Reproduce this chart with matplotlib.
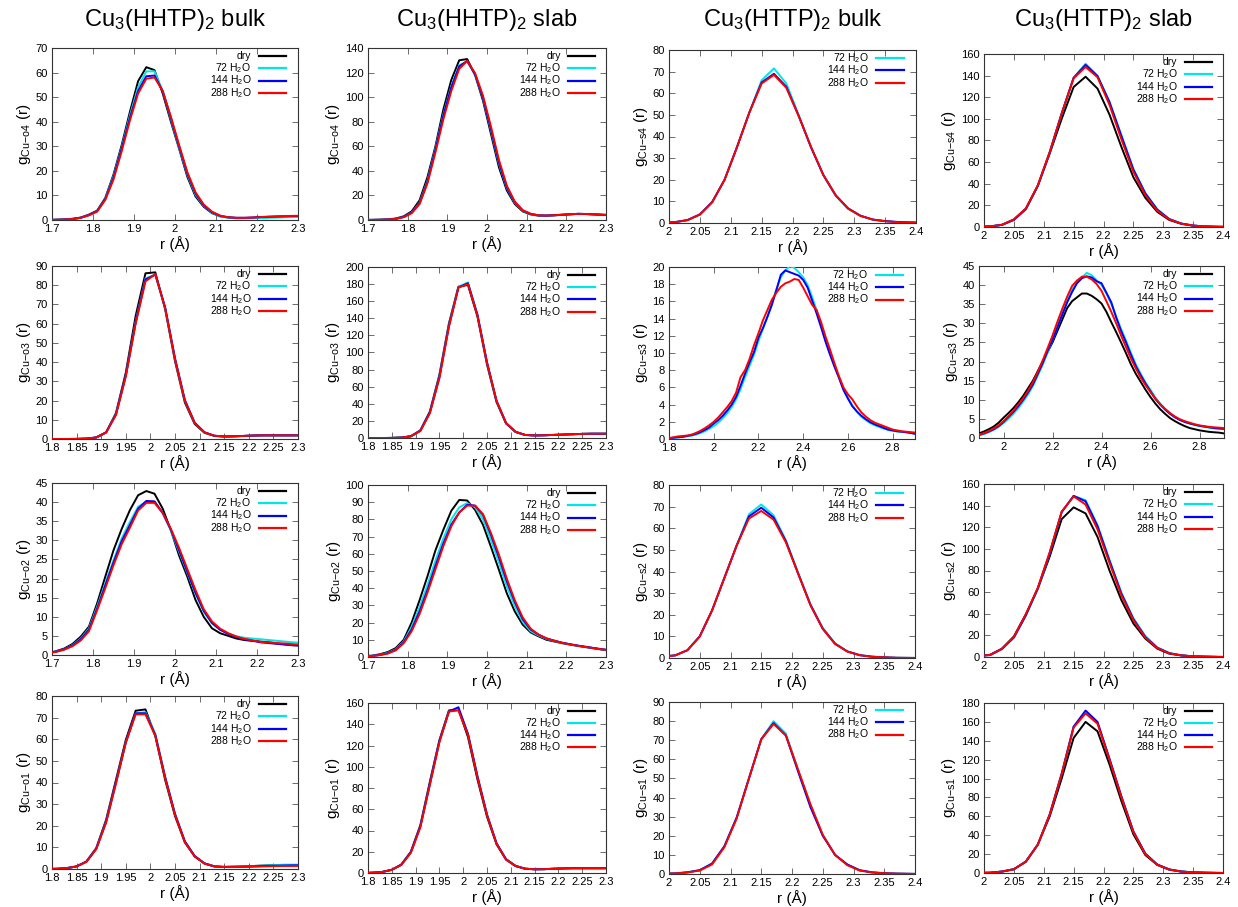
import numpy as np
import matplotlib
matplotlib.use("Agg")
import matplotlib.pyplot as plt
from matplotlib.ticker import FuncFormatter

plt.rcParams["font.family"] = ["Liberation Sans", "DejaVu Sans"]
plt.rcParams["mathtext.fontset"] = "custom"
plt.rcParams["mathtext.rm"] = "Liberation Sans"
plt.rcParams["mathtext.it"] = "Liberation Sans:italic"
plt.rcParams["mathtext.bf"] = "Liberation Sans:bold"

# ── r grids (bin centres, Å) ─────────────────────────────────────────────────
R17 = [1.69, 1.71, 1.73, 1.75, 1.77, 1.79, 1.81, 1.83, 1.85, 1.87, 1.89,
       1.91, 1.93, 1.95, 1.97, 1.99, 2.01, 2.03, 2.05, 2.07, 2.09, 2.11,
       2.13, 2.15, 2.17, 2.19, 2.21, 2.23, 2.25, 2.27, 2.29, 2.31]
R18 = [1.79, 1.81, 1.83, 1.85, 1.87, 1.89, 1.91, 1.93, 1.95, 1.97, 1.99,
       2.01, 2.03, 2.05, 2.07, 2.09, 2.11, 2.13, 2.15, 2.17, 2.19, 2.21,
       2.23, 2.25, 2.27, 2.29, 2.31]
R20 = [1.99, 2.01, 2.03, 2.05, 2.07, 2.09, 2.11, 2.13, 2.15, 2.17, 2.19,
       2.21, 2.23, 2.25, 2.27, 2.29, 2.31, 2.33, 2.35, 2.37, 2.39, 2.41]
R_S3B = [1.80, 1.82, 1.84, 1.86, 1.88, 1.90, 1.92, 1.94, 1.96, 1.98,
         2.00, 2.02, 2.04, 2.06, 2.08, 2.10, 2.12, 2.14, 2.16, 2.18,
         2.20, 2.22, 2.24, 2.26, 2.28, 2.30, 2.32, 2.34, 2.36, 2.38,
         2.40, 2.42, 2.44, 2.46, 2.48, 2.50, 2.52, 2.54, 2.56, 2.58,
         2.60, 2.62, 2.64, 2.66, 2.68, 2.70, 2.72, 2.74, 2.76, 2.78,
         2.80, 2.82, 2.84, 2.86, 2.88, 2.90]
R_S3S = R_S3B[5:]

# ── Cu3(HHTP)2 bulk ──────────────────────────────────────────────────────────
HB_O4_DRY = [0, 0.1, 0.2, 0.5, 1.0, 2.2, 3.8, 9.0, 18.5, 30.5, 44.0, 56.5, 62.2, 61.0, 51.5, 40.0,
             29.0, 17.6, 9.6, 5.4, 2.8, 1.5, 1.0, 0.8, 0.8, 0.9, 1.1, 1.2, 1.3, 1.4, 1.5, 1.5]
HB_O4_72 = [0, 0.1, 0.2, 0.4, 0.9, 2.0, 3.6, 8.7, 17.8, 29.5, 42.5, 54.0, 60.5, 60.5, 52.5, 41.0,
            29.5, 18.5, 10.3, 5.8, 3.0, 1.5, 0.9, 0.7, 0.7, 0.7, 0.8, 0.9, 1.0, 1.1, 1.2, 1.2]
HB_O4_144 = [0, 0.1, 0.2, 0.4, 0.9, 2.0, 3.6, 8.5, 17.2, 29.0, 41.5, 52.5, 58.5, 58.8, 52.5, 41.5,
             30.0, 19.0, 10.8, 6.0, 3.2, 1.7, 1.1, 0.9, 0.9, 1.0, 1.2, 1.3, 1.4, 1.5, 1.6, 1.6]
HB_O4_288 = [0, 0.1, 0.2, 0.4, 0.9, 1.9, 3.4, 8.2, 16.5, 28.0, 40.5, 51.5, 57.5, 58.0, 52.5, 42.0,
             30.5, 19.5, 11.3, 6.3, 3.4, 1.8, 1.1, 0.9, 0.9, 1.0, 1.2, 1.4, 1.5, 1.6, 1.7, 1.7]

HB_O3_DRY = [0, 0, 0, 0.05, 0.2, 0.8, 3.5, 13.5, 34.5, 64, 86.2, 86.7, 67.5, 40.5, 19.0, 7.8, 3.2,
             1.6, 1.3, 1.4, 1.6, 1.8, 1.9, 1.9, 1.9, 1.9, 1.9]
HB_O3_72 = [0, 0, 0, 0.05, 0.2, 0.8, 3.5, 13, 33, 61, 83.5, 85.5, 68, 41.5, 20, 8.3, 3.4,
            1.7, 1.3, 1.4, 1.6, 1.8, 1.9, 1.9, 1.9, 1.9, 1.9]
HB_O3_144 = [0, 0, 0, 0.05, 0.2, 0.8, 3.4, 12.8, 33, 60.5, 83, 85.5, 68.5, 42, 20.3, 8.5, 3.5,
             1.7, 1.3, 1.4, 1.6, 1.8, 1.9, 1.9, 1.9, 1.9, 1.9]
HB_O3_288 = [0, 0, 0, 0.05, 0.2, 0.8, 3.4, 12.5, 32.5, 60, 82, 85.8, 68, 41.5, 20, 8.3, 3.4,
             1.7, 1.3, 1.4, 1.6, 1.8, 1.9, 1.9, 1.9, 1.9, 1.9]

HB_O2_DRY = [0.5, 1.0, 1.7, 2.9, 4.8, 7.4, 13.5, 20.5, 27.4, 33.0, 37.9, 41.8, 42.9, 42.2, 38.3, 32.6,
             26.0, 20.5, 14.4, 10.0, 7.0, 5.7, 5.0, 4.3, 3.9, 3.7, 3.5, 3.3, 3.0, 2.8, 2.6, 2.5]
HB_O2_72 = [0.5, 0.9, 1.5, 2.6, 4.3, 6.9, 12.6, 18.8, 24.8, 30.5, 34.8, 38.8, 40.1, 40.0, 37.0, 32.5,
            27.0, 21.5, 16.0, 11.3, 8.3, 6.6, 5.6, 4.9, 4.5, 4.3, 4.1, 3.9, 3.7, 3.5, 3.3, 3.2]
HB_O2_144 = [0.5, 0.9, 1.5, 2.5, 4.1, 6.6, 12.1, 18.2, 24.2, 29.8, 34.0, 38.3, 40.3, 40.2, 37.2, 32.8,
             27.4, 21.8, 16.3, 11.6, 8.4, 6.6, 5.5, 4.7, 4.1, 3.7, 3.3, 3.1, 2.9, 2.7, 2.5, 2.4]
HB_O2_288 = [0.5, 0.8, 1.4, 2.3, 3.8, 6.2, 11.7, 17.5, 23.5, 29.0, 33.3, 37.8, 39.8, 39.8, 37.2, 33.0,
             28.0, 22.5, 17.0, 12.0, 8.8, 6.9, 5.7, 4.8, 4.2, 3.8, 3.4, 3.3, 3.1, 3.0, 2.8, 2.7]

HB_O1_DRY = [0, 0.1, 0.4, 1.2, 3.5, 9.7, 22.8, 41.2, 59.7, 73.2, 73.8, 61.5, 41.2, 24.5, 12.3, 5.8,
             2.5, 1.2, 1.0, 1.1, 1.2, 1.4, 1.6, 1.8, 1.9, 1.9, 1.9]
HB_O1_72 = [0, 0.1, 0.4, 1.2, 3.4, 9.5, 22.0, 40.0, 58.5, 72.0, 72.5, 62.5, 42.5, 25.5, 12.8, 6.0,
            2.6, 1.3, 1.0, 1.1, 1.2, 1.4, 1.6, 1.8, 1.9, 1.9, 1.9]
HB_O1_144 = [0, 0.1, 0.4, 1.2, 3.4, 9.4, 21.8, 40.0, 58.5, 72.0, 72.0, 62.0, 42.5, 25.5, 12.8, 6.0,
             2.6, 1.2, 0.9, 1.0, 1.1, 1.2, 1.4, 1.5, 1.6, 1.7, 1.7]
HB_O1_288 = [0, 0.1, 0.4, 1.2, 3.3, 9.2, 21.5, 39.5, 58.5, 71.5, 71.5, 61.5, 42.0, 25.0, 12.5, 5.8,
             2.5, 1.2, 0.9, 0.9, 1.0, 1.1, 1.2, 1.3, 1.4, 1.4, 1.4]

# ── Cu3(HHTP)2 slab ──────────────────────────────────────────────────────────
HS_O4_DRY = [0, 0.1, 0.2, 0.5, 1.2, 3.0, 7.0, 16, 35, 60, 90, 114, 130, 131, 118, 97,
             70, 43, 24, 13, 7, 4.5, 3.5, 3.5, 3.8, 4.2, 4.6, 5.0, 4.8, 4.5, 4.2, 4.0]
HS_O4_72 = [0, 0.1, 0.2, 0.4, 1.0, 2.5, 6.0, 14, 32, 58, 86, 109, 126, 129, 118.5, 99,
            73, 46, 26, 14, 7.5, 4.8, 3.7, 3.6, 3.9, 4.3, 4.7, 5.0, 4.9, 4.6, 4.3, 4.0]
HS_O4_144 = [0, 0.1, 0.2, 0.4, 1.0, 2.5, 5.8, 13.5, 31, 57, 85, 108, 125, 129.5, 118.5, 99.5,
             74, 47, 26.5, 14.5, 7.8, 5.0, 3.8, 3.6, 3.9, 4.3, 4.7, 5.0, 4.9, 4.6, 4.3, 4.0]
HS_O4_288 = [0, 0.1, 0.2, 0.4, 0.9, 2.3, 5.5, 13, 30, 55, 82, 105, 123, 129.5, 119.5, 101,
             76, 49, 28, 15, 8, 5.0, 3.8, 3.6, 3.9, 4.3, 4.7, 5.0, 4.9, 4.6, 4.3, 4.0]

HS_O3_DRY = [0, 0, 0, 0.1, 0.5, 2, 9, 31, 74, 134, 177, 179, 142, 86, 42, 17, 7,
             3.5, 3, 3.2, 3.6, 4, 4.4, 4.8, 5, 5, 5]
HS_O3_72 = [0, 0, 0, 0.1, 0.5, 2, 8.5, 30, 72, 132, 177, 182, 144, 88, 43, 17.5, 7.2,
            3.6, 3, 3.2, 3.6, 4, 4.4, 4.8, 5, 5, 5]
HS_O3_144 = [0, 0, 0, 0.1, 0.5, 2, 8.5, 30, 71, 131, 176, 181, 144, 88.5, 43.5, 17.5, 7.2,
             3.6, 3, 3.2, 3.6, 4, 4.4, 4.8, 5, 5, 5]
HS_O3_288 = [0, 0, 0, 0.1, 0.5, 2, 8.3, 29, 70, 130, 176, 180, 143, 88, 43.5, 17.5, 7.2,
             3.6, 3, 3.2, 3.6, 4, 4.4, 4.8, 5, 5, 5]

HS_O2_DRY = [0.5, 0.8, 1.6, 2.9, 5.2, 10, 20, 33, 47, 62, 74, 85, 91.3, 91, 85.5, 76.8,
             64, 50.7, 37, 26.5, 18.8, 14.3, 12, 10, 9, 8, 7.2, 6.4, 5.7, 5.0, 4.3, 3.8]
HS_O2_72 = [0.4, 0.7, 1.3, 2.4, 4.5, 9, 17.5, 29, 42, 56, 69, 80, 87, 89.5, 87, 80,
            68, 55, 41, 29.5, 20.5, 15, 12.5, 10.5, 9.3, 8.2, 7.3, 6.5, 5.8, 5.1, 4.4, 3.9]
HS_O2_144 = [0.4, 0.6, 1.2, 2.2, 4.2, 8.5, 16, 26.5, 39, 53, 66, 77, 84, 88.5, 88, 82.5,
             71, 58, 44, 32, 22, 16, 13, 10.8, 9.5, 8.3, 7.4, 6.6, 5.9, 5.2, 4.5, 4.0]
HS_O2_288 = [0.4, 0.6, 1.1, 2.0, 3.9, 8, 15, 25, 37.5, 51, 64.5, 76, 84, 88, 88, 83,
             72, 59.5, 45.5, 33, 23, 16.5, 13, 10.8, 9.4, 8.2, 7.3, 6.5, 5.8, 5.1, 4.4, 3.9]

HS_O1_DRY = [0, 0.3, 1, 3, 8, 20, 45, 86, 125, 153, 154, 128, 88, 53, 27, 12.5, 6.5,
             4, 3.5, 3.6, 4, 4.3, 4.5, 4.5, 4.5, 4.5, 4.5]
HS_O1_72 = [0, 0.3, 1, 3, 7.8, 19.5, 44, 84, 124, 152, 154, 131, 91, 55, 28, 13, 6.7,
            4.1, 3.5, 3.6, 4, 4.3, 4.5, 4.5, 4.5, 4.5, 4.5]
HS_O1_144 = [0, 0.3, 1, 3, 7.8, 19.5, 44, 84, 124, 152, 156, 131, 91, 55, 28, 13, 6.7,
             4.1, 3.5, 3.6, 4, 4.3, 4.5, 4.5, 4.5, 4.5, 4.5]
HS_O1_288 = [0, 0.3, 1, 3, 7.6, 19, 43, 83, 123, 152, 153, 130, 90, 54.5, 27.5, 12.8, 6.6,
             4.0, 3.5, 3.6, 4, 4.3, 4.5, 4.5, 4.5, 4.5, 4.5]

# ── Cu3(HTTP)2 bulk (no dry run) ─────────────────────────────────────────────
TB_S4_72 = [0.2, 0.4, 1.3, 3.8, 9.5, 20, 35, 51, 66, 71.5, 64.5, 50, 35, 22, 12.5, 6.5,
            3.2, 1.5, 0.8, 0.4, 0.2, 0.1]
TB_S4_144 = [0.2, 0.4, 1.4, 4.0, 9.8, 20, 35, 51, 65, 69, 63, 49.5, 35, 22.2, 12.8, 6.8,
             3.4, 1.6, 0.9, 0.5, 0.3, 0.2]
TB_S4_288 = [0.2, 0.4, 1.3, 3.9, 9.6, 20, 35, 51, 64.5, 68.5, 62.5, 49.5, 35.2, 22.2, 12.8, 6.7,
             3.3, 1.6, 0.8, 0.4, 0.2, 0.1]

TB_S3_72 = [0.10, 0.12, 0.18, 0.22, 0.30, 0.38, 0.50, 0.68, 0.90, 1.20,
            1.50, 1.90, 2.40, 3.00, 3.70, 4.60, 5.80, 7.20, 8.50, 9.80,
            11.4, 12.8, 14.2, 15.8, 17.4, 18.8, 19.6, 20.1, 19.9, 19.4,
            18.8, 17.9, 16.5, 15.0, 13.3, 11.6, 10.0, 8.60, 7.20, 5.90,
            4.80, 3.90, 3.20, 2.60, 2.20, 1.85, 1.60, 1.40, 1.20, 1.05,
            0.95, 0.88, 0.82, 0.76, 0.70, 0.65]
TB_S3_144 = [0.10, 0.15, 0.20, 0.25, 0.35, 0.45, 0.60, 0.80, 1.05, 1.35,
             1.80, 2.20, 2.70, 3.30, 4.00, 4.90, 6.20, 7.60, 8.90, 10.1,
             11.8, 12.9, 14.2, 15.6, 17.3, 19.1, 19.6, 19.4, 19.2, 19.0,
             18.5, 17.6, 16.1, 14.6, 13.0, 11.3, 9.80, 8.40, 7.10, 5.70,
             4.70, 3.80, 3.20, 2.70, 2.30, 1.95, 1.70, 1.50, 1.30, 1.10,
             1.00, 0.90, 0.85, 0.80, 0.70, 0.60]
TB_S3_288 = [0.10, 0.20, 0.30, 0.35, 0.40, 0.50, 0.70, 0.95, 1.25, 1.60,
             2.00, 2.50, 3.10, 3.70, 4.40, 5.40, 7.20, 8.00, 9.30, 10.9,
             12.3, 13.8, 15.0, 16.2, 17.0, 17.7, 18.1, 18.3, 18.6, 18.5,
             17.6, 16.6, 15.6, 15.0, 13.6, 11.9, 10.4, 8.80, 7.30, 6.00,
             5.20, 4.60, 3.80, 3.10, 2.60, 2.20, 1.90, 1.70, 1.50, 1.30,
             1.10, 1.00, 0.90, 0.85, 0.80, 0.75]

TB_S2_72 = [0.7, 1.2, 3.6, 10, 22, 37, 52, 66.5, 71, 66, 54.5, 39.5, 25, 14, 6.8, 3.1,
            1.4, 0.6, 0.3, 0.1, 0.05, 0]
TB_S2_144 = [0.7, 1.2, 3.6, 10, 22, 37, 52, 65.5, 69.5, 65, 54, 39, 24.5, 13.5, 6.6, 3.0,
             1.3, 0.6, 0.3, 0.1, 0.05, 0]
TB_S2_288 = [0.7, 1.2, 3.6, 10, 22, 37, 52, 64.5, 68, 64, 53.5, 39, 24.5, 13.5, 6.5, 3.0,
             1.3, 0.6, 0.3, 0.1, 0.05, 0]

TB_S1_72 = [0.2, 0.3, 0.9, 2.0, 5.4, 14.5, 29.5, 50, 70.5, 80, 73.5, 54.5, 36, 20.5, 10, 4.8,
            1.9, 0.8, 0.4, 0.2, 0.1, 0]
TB_S1_144 = [0.2, 0.3, 0.9, 2.0, 5.5, 14.5, 29.5, 50, 70.5, 79, 72.5, 53.5, 35, 20, 10, 5.0,
             2.0, 0.9, 0.4, 0.2, 0.1, 0]
TB_S1_288 = [0.2, 0.3, 0.8, 1.8, 5.0, 14.0, 29.0, 50, 70.5, 78.5, 72.5, 54.5, 36.5, 20.5, 10, 4.6,
             1.8, 0.8, 0.4, 0.2, 0.1, 0]

# ── Cu3(HTTP)2 slab ──────────────────────────────────────────────────────────
TS_S4_DRY = [0.3, 0.5, 2.0, 7, 17, 38, 68, 100, 129.5, 139, 128, 104, 74, 46, 27, 14,
             6.5, 3, 1.2, 0.5, 0.2, 0.1]
TS_S4_72 = [0.3, 0.5, 2.0, 6.5, 16.5, 38, 69, 105, 138, 151, 140, 116, 85, 54, 31.5, 16.5,
            7.5, 3.3, 1.4, 0.6, 0.2, 0.1]
TS_S4_144 = [0.3, 0.5, 2.0, 6.5, 16.5, 38, 69, 105, 138, 150, 139.5, 115.5, 84, 53, 31, 16,
             7.3, 3.2, 1.3, 0.5, 0.2, 0.1]
TS_S4_288 = [0.3, 0.5, 2.0, 7, 17, 38.5, 69.5, 105, 137.5, 148, 138.5, 113, 81, 51, 29.5, 15,
             7.0, 3.1, 1.3, 0.5, 0.2, 0.1]

TS_S3_DRY = [1.2, 1.7, 2.3, 3.0, 4.0, 5.3, 6.5, 7.8, 9.3, 11.0,
             13.0, 15.0, 17.5, 20.0, 22.5, 25.0, 28.0, 31.0, 34.0, 35.8,
             36.8, 37.8, 37.8, 37.2, 36.3, 35.2, 33.0, 30.3, 27.7, 25.0,
             22.2, 19.3, 16.8, 14.7, 12.6, 10.7, 9.0, 7.5, 6.3, 5.2,
             4.4, 3.7, 3.1, 2.6, 2.3, 2.0, 1.8, 1.6, 1.5, 1.4, 1.2]
TS_S3_72 = [0.7, 1.0, 1.5, 2.1, 2.9, 3.9, 5.0, 6.3, 7.8, 9.5,
            11.4, 13.6, 16.3, 19.2, 22.4, 25.6, 29.0, 32.4, 35.8, 38.8,
            40.8, 42.0, 43.2, 42.6, 41.3, 40.0, 37.8, 35.0, 31.8, 28.5,
            25.5, 22.3, 19.3, 16.8, 14.5, 12.6, 10.6, 9.0, 7.6, 6.5,
            5.5, 4.8, 4.2, 3.8, 3.4, 3.1, 2.9, 2.7, 2.5, 2.4, 2.3]
TS_S3_144 = [0.8, 1.2, 1.7, 2.3, 3.1, 4.2, 5.5, 6.8, 8.3, 10.0,
             11.9, 14.0, 16.8, 19.6, 22.8, 25.6, 29.0, 32.3, 35.5, 38.2,
             40.5, 41.8, 42.3, 42.0, 41.0, 40.5, 38.0, 35.5, 31.5, 28.0,
             25.0, 21.8, 18.8, 16.4, 14.2, 12.2, 10.2, 8.7, 7.4, 6.3,
             5.4, 4.7, 4.2, 3.8, 3.5, 3.2, 3.0, 2.8, 2.6, 2.5, 2.4]
TS_S3_288 = [0.9, 1.3, 1.8, 2.5, 3.3, 4.4, 5.7, 7.1, 8.7, 10.4,
             12.3, 14.6, 17.3, 20.3, 23.5, 26.8, 30.4, 33.8, 37.0, 39.8,
             41.2, 42.2, 42.2, 41.5, 40.3, 38.5, 35.8, 33.0, 30.0, 26.8,
             23.8, 20.8, 18.2, 15.8, 13.8, 12.0, 10.3, 8.8, 7.6, 6.5,
             5.6, 4.9, 4.4, 4.0, 3.6, 3.3, 3.1, 2.9, 2.8, 2.7, 2.6]

TS_S2_DRY = [1.2, 2, 7.7, 19, 39.5, 63, 93, 127.5, 138.4, 132.8, 111, 80, 52.5, 31, 17, 7.7,
             3.1, 1.5, 0.6, 0.3, 0.1, 0]
TS_S2_72 = [1.2, 1.8, 7.5, 18, 38, 63, 96, 134, 149, 145, 122, 90, 59.5, 36, 19.5, 9,
            3.8, 1.6, 0.6, 0.3, 0.1, 0]
TS_S2_144 = [1.2, 1.8, 7.5, 18, 38.5, 63.5, 96, 134, 149, 144, 121, 89, 58.5, 35, 18.5, 8.5,
             3.5, 1.5, 0.6, 0.3, 0.1, 0]
TS_S2_288 = [1.2, 1.8, 7.5, 18.5, 39.5, 64, 97, 134.5, 148.5, 141, 118, 87, 57, 34, 18, 8.2,
             3.4, 1.5, 0.6, 0.3, 0.1, 0]

TS_S1_DRY = [0.1, 0.3, 1.5, 4, 12, 30, 60, 100, 143, 160, 150, 115, 76, 41, 19, 8.5,
             3.5, 1.5, 0.7, 0.3, 0.1, 0]
TS_S1_72 = [0.1, 0.3, 1.5, 4, 12, 30, 62, 105, 155, 170, 159, 121, 81, 44, 20.5, 9,
            3.8, 1.6, 0.7, 0.3, 0.1, 0]
TS_S1_144 = [0.1, 0.3, 1.5, 4, 12, 30, 62, 105, 155, 172, 160, 121, 81, 44, 20.5, 9,
             3.8, 1.6, 0.7, 0.3, 0.1, 0]
TS_S1_288 = [0.1, 0.3, 1.5, 4, 12, 30, 62, 105, 154, 169, 158, 120, 80, 43.5, 20, 8.8,
             3.7, 1.5, 0.7, 0.3, 0.1, 0]

TITLES = ["Cu$_3$(HHTP)$_2$ bulk", "Cu$_3$(HHTP)$_2$ slab",
          "Cu$_3$(HTTP)$_2$ bulk", "Cu$_3$(HTTP)$_2$ slab"]
LABELS = {"dry": "dry", "72": "72 H$_2$O", "144": "144 H$_2$O", "288": "288 H$_2$O"}
COLORS = {"dry": "#000000", "72": "#00e6e6", "144": "#0000ff", "288": "#ff0000"}

# (row, col, r, [(key, g)], site, (ymax, ystep), (xmin, xmax, xstep), axes box in px)
PANELS = [
    (0, 0, R17, [("dry", HB_O4_DRY), ("72", HB_O4_72), ("144", HB_O4_144), ("288", HB_O4_288)],
     "o4", (70, 10), (1.7, 2.3, 0.1), (52, 48, 298, 220)),
    (0, 1, R17, [("dry", HS_O4_DRY), ("72", HS_O4_72), ("144", HS_O4_144), ("288", HS_O4_288)],
     "o4", (140, 20), (1.7, 2.3, 0.1), (368, 48, 606, 220)),
    (0, 2, R20, [("72", TB_S4_72), ("144", TB_S4_144), ("288", TB_S4_288)],
     "s4", (80, 10), (2.0, 2.4, 0.05), (669, 50, 916, 223)),
    (0, 3, R20, [("dry", TS_S4_DRY), ("72", TS_S4_72), ("144", TS_S4_144), ("288", TS_S4_288)],
     "s4", (160, 20), (2.0, 2.4, 0.05), (984, 54, 1223, 227)),
    (1, 0, R18, [("dry", HB_O3_DRY), ("72", HB_O3_72), ("144", HB_O3_144), ("288", HB_O3_288)],
     "o3", (90, 10), (1.8, 2.3, 0.05), (52, 266, 298, 439)),
    (1, 1, R18, [("dry", HS_O3_DRY), ("72", HS_O3_72), ("144", HS_O3_144), ("288", HS_O3_288)],
     "o3", (200, 20), (1.8, 2.3, 0.05), (368, 267, 606, 438)),
    (1, 2, R_S3B, [("72", TB_S3_72), ("144", TB_S3_144), ("288", TB_S3_288)],
     "s3", (20, 2), (1.8, 2.9, 0.2), (669, 267, 915, 439)),
    (1, 3, R_S3S, [("dry", TS_S3_DRY), ("72", TS_S3_72), ("144", TS_S3_144), ("288", TS_S3_288)],
     "s3", (45, 5), (1.9, 2.9, 0.2), (979, 266, 1224, 438)),
    (2, 0, R17, [("dry", HB_O2_DRY), ("72", HB_O2_72), ("144", HB_O2_144), ("288", HB_O2_288)],
     "o2", (45, 5), (1.7, 2.3, 0.1), (52, 483, 298, 655)),
    (2, 1, R17, [("dry", HS_O2_DRY), ("72", HS_O2_72), ("144", HS_O2_144), ("288", HS_O2_288)],
     "o2", (100, 10), (1.7, 2.3, 0.1), (368, 485, 606, 657)),
    (2, 2, R20, [("72", TB_S2_72), ("144", TB_S2_144), ("288", TB_S2_288)],
     "s2", (80, 10), (2.0, 2.4, 0.05), (669, 485, 915, 658)),
    (2, 3, R20, [("dry", TS_S2_DRY), ("72", TS_S2_72), ("144", TS_S2_144), ("288", TS_S2_288)],
     "s2", (160, 20), (2.0, 2.4, 0.05), (984, 484, 1223, 657)),
    (3, 0, R18, [("dry", HB_O1_DRY), ("72", HB_O1_72), ("144", HB_O1_144), ("288", HB_O1_288)],
     "o1", (80, 10), (1.8, 2.3, 0.05), (52, 696, 298, 869)),
    (3, 1, R18, [("dry", HS_O1_DRY), ("72", HS_O1_72), ("144", HS_O1_144), ("288", HS_O1_288)],
     "o1", (160, 20), (1.8, 2.3, 0.05), (368, 703, 606, 873)),
    (3, 2, R20, [("72", TB_S1_72), ("144", TB_S1_144), ("288", TB_S1_288)],
     "s1", (90, 10), (2.0, 2.4, 0.05), (669, 702, 915, 874)),
    (3, 3, R20, [("dry", TS_S1_DRY), ("72", TS_S1_72), ("144", TS_S1_144), ("288", TS_S1_288)],
     "s1", (180, 20), (2.0, 2.4, 0.05), (984, 703, 1223, 873)),
]

W, H = 1238, 907
fig = plt.figure(figsize=(W / 100, H / 100), dpi=100)
fmt = FuncFormatter(lambda v, p: f"{v:g}")

for row, col, r, series, site, (ymax, ystep), (x0, x1, xstep), (l, t, rr, b) in PANELS:
    ax = fig.add_axes([l / W, 1 - b / H, (rr - l) / W, (b - t) / H])
    for key, g in series:
        ax.plot(r, g, color=COLORS[key], lw=1.4, zorder=3)

    ax.set_xlim(x0, x1)
    ax.set_ylim(0, ymax)
    first = np.ceil(x0 / xstep - 1e-6) * xstep
    ax.set_xticks(np.round(np.arange(first, x1 + xstep / 2, xstep), 3))
    ax.set_yticks(np.arange(0, ymax + ystep / 2, ystep))
    ax.xaxis.set_major_formatter(fmt)
    ax.yaxis.set_major_formatter(fmt)
    ax.tick_params(direction="in", top=True, right=True, length=4, width=0.6,
                   labelsize=8, pad=3, color="#555555")
    for sp in ax.spines.values():
        sp.set_linewidth(0.8)
        sp.set_color("#333333")
    ax.set_xlabel("r (Å)", fontsize=11, labelpad=1)
    ax.set_ylabel(r"g$_{\mathregular{Cu{-}" + site + r"}}$ (r)", fontsize=11, labelpad=2)

    # gnuplot-style key: right-justified text, sample line to the right
    for i, (key, g) in enumerate(series):
        y = 0.955 - 0.072 * i
        ax.text(0.81, y, LABELS[key], transform=ax.transAxes, ha="right",
                va="center", fontsize=7.5)
        ax.plot([0.84, 0.953], [y, y], transform=ax.transAxes,
                color=COLORS[key], lw=1.6, zorder=4)

    if row == 0:
        fig.text((l + rr) / 2 / W, 1 - 20 / H, TITLES[col], ha="center",
                 va="center", fontsize=17)

plt.savefig("out.png", dpi=100, facecolor="white")
plt.close()
print("Saved: out.png")
